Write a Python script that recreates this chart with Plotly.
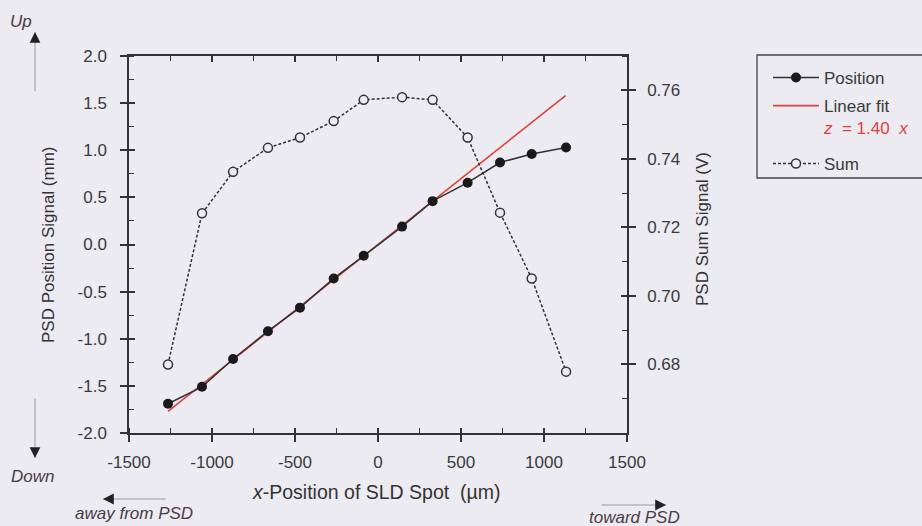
import plotly.graph_objects as go

# ---------------- data ----------------
spot_x = [-1265, -1060, -873, -663, -470, -267, -86, 145, 329, 540, 735, 926, 1133]
position_mm = [-1.69, -1.51, -1.215, -0.92, -0.67, -0.36, -0.12, 0.19, 0.46, 0.656, 0.87, 0.96, 1.03]
sum_v = [0.680, 0.7241, 0.7362, 0.7432, 0.7462, 0.751, 0.7572, 0.758, 0.7572, 0.7462, 0.7243, 0.7051, 0.6779]
fit_x = [-1265, 1130]
fit_z = [-1.77, 1.58]

x_ticks = [-1500, -1000, -500, 0, 500, 1000, 1500]
x_ticktext = ["-1500", "-1000", "-500", "0", "500", "1000", "1500"]
y_ticks = [-2.0, -1.5, -1.0, -0.5, 0.0, 0.5, 1.0, 1.5, 2.0]
y_ticktext = ["-2.0", "-1.5", "-1.0", "-0.5", "0.0", "0.5", "1.0", "1.5", "2.0"]
y2_ticks = [0.68, 0.70, 0.72, 0.74, 0.76]
y2_ticktext = ["0.68", "0.70", "0.72", "0.74", "0.76"]

# ---------------- style ----------------
BG = "#ecebf1"
INK = "#333333"
RED = "#e2403c"
FONT = "Liberation Sans, Arial, sans-serif"
FS = 17
W, H = 922, 526
L, R, T, B = 129, 627, 56, 433


def px(xp):
    return (xp - L) / (R - L)


def py(yp):
    return (B - yp) / (B - T)


fig = go.Figure()

fig.add_trace(go.Scatter(
    x=spot_x, y=sum_v, name="Sum", yaxis="y2", mode="lines+markers",
    line=dict(color=INK, width=1.5, dash="3px,2px"),
    marker=dict(symbol="circle", size=9, color=BG, line=dict(color=INK, width=1.5)),
    legend="legend2",
))
fig.add_trace(go.Scatter(
    x=fit_x, y=fit_z, mode="lines",
    name="Linear fit<br><span style='color:%s'><i>z</i>  = 1.40  <i>x</i></span>" % RED,
    line=dict(color=RED, width=1.6),
    legendrank=2, legendgroup="b",
))
fig.add_trace(go.Scatter(
    x=spot_x, y=position_mm, name="Position", mode="lines+markers",
    line=dict(color=INK, width=1.5),
    marker=dict(symbol="circle", size=10, color="#1a1a1a"),
    legendrank=1, legendgroup="a",
))

axis_common = dict(showgrid=False, zeroline=False, linecolor=INK, linewidth=1.5,
                   tickcolor=INK, tickwidth=1.5,
                   tickfont=dict(family=FONT, size=FS, color="#3a3a3a"))

leg_common = dict(xanchor="left", yanchor="top", bgcolor="rgba(0,0,0,0)", borderwidth=0,
                  font=dict(family=FONT, size=FS, color="#3a3a3a"),
                  valign="top", itemwidth=46)

fig.update_layout(
    width=W, height=H,
    margin=dict(l=L, r=W - R, t=T, b=H - B, autoexpand=False),
    paper_bgcolor=BG, plot_bgcolor=BG,
    font=dict(family=FONT, size=FS, color=INK),
    showlegend=True,
    legend=dict(x=px(768), y=py(60), tracegroupgap=3, traceorder="grouped", **leg_common),
    legend2=dict(x=px(768), y=py(146), **leg_common),
    xaxis=dict(range=[-1500, 1500], tickvals=x_ticks, ticktext=x_ticktext,
               ticks="outside", ticklen=7, showline=True, anchor="y",
               ticklabelstandoff=6,
               minor=dict(dtick=250, tick0=0, ticks="inside", ticklen=5,
                          tickcolor=INK, tickwidth=1.2),
               **axis_common),
    xaxis2=dict(range=[-1500, 1500], tickvals=x_ticks, overlaying="x", side="bottom",
                anchor="y", ticks="inside", ticklen=5, showticklabels=False,
                showline=False, showgrid=False, zeroline=False, tickcolor=INK, tickwidth=1.5),
    xaxis3=dict(range=[-1500, 1500], tickvals=x_ticks, overlaying="x", side="top",
                anchor="y", ticks="inside", ticklen=6, showticklabels=False,
                showline=True, linecolor=INK, linewidth=1.5,
                minor=dict(dtick=250, tick0=0, ticks="inside", ticklen=5,
                           tickcolor=INK, tickwidth=1.2),
                showgrid=False, zeroline=False, tickcolor=INK, tickwidth=1.5),
    yaxis=dict(range=[-2, 2], tickvals=y_ticks, ticktext=y_ticktext,
               ticks="outside", ticklen=7, showline=True, anchor="x",
               ticklabelstandoff=10,
               minor=dict(dtick=0.25, tick0=0, ticks="inside", ticklen=5,
                          tickcolor=INK, tickwidth=1.2),
               **axis_common),
    yaxis3=dict(range=[-2, 2], tickvals=y_ticks, overlaying="y", side="left",
                anchor="x", ticks="inside", ticklen=6, showticklabels=False,
                showline=False, showgrid=False, zeroline=False, tickcolor=INK, tickwidth=1.5),
    yaxis2=dict(range=[0.66, 0.77], tickvals=y2_ticks, ticktext=y2_ticktext,
                overlaying="y", side="right", anchor="x",
                ticks="outside", ticklen=7, showline=True,
                ticklabelstandoff=8,
                minor=dict(dtick=0.01, tick0=0.66, ticks="inside", ticklen=5,
                           tickcolor=INK, tickwidth=1.2),
                **axis_common),
    yaxis4=dict(range=[0.66, 0.77], tickvals=y2_ticks, overlaying="y", side="right",
                anchor="x", ticks="inside", ticklen=6, showticklabels=False,
                showline=False, showgrid=False, zeroline=False, tickcolor=INK, tickwidth=1.5),
)

# invisible traces so the overlay tick axes are drawn
fig.add_trace(go.Scatter(x=[None], y=[None], xaxis="x2", yaxis="y", showlegend=False, hoverinfo="skip"))
fig.add_trace(go.Scatter(x=[None], y=[None], xaxis="x3", yaxis="y", showlegend=False, hoverinfo="skip"))
fig.add_trace(go.Scatter(x=[None], y=[None], xaxis="x", yaxis="y3", showlegend=False, hoverinfo="skip"))
fig.add_trace(go.Scatter(x=[None], y=[None], xaxis="x", yaxis="y4", showlegend=False, hoverinfo="skip"))

# legend frame (right side runs off the page, as in the original)
fig.add_shape(type="rect", xref="paper", yref="paper",
              x0=px(757), x1=px(940), y0=py(178), y1=py(55),
              line=dict(color="#444444", width=1.3), fillcolor="rgba(0,0,0,0)")

ann = []
# axis titles
ann.append(dict(x=px(376), y=py(492), text="<i>x</i>-Position of SLD Spot  (µm)",
                font=dict(size=19.5, color=INK)))
ann.append(dict(x=px(48), y=py(245), text="PSD Position Signal (mm)", textangle=-90,
                font=dict(size=FS, color=INK)))
ann.append(dict(x=px(702), y=py(229), text="PSD Sum Signal (V)", textangle=-90,
                font=dict(size=FS, color=INK)))

LAB = "#4a3c44"
for txt, xx, yy in [("Up", 21, 22), ("Down", 32, 477), ("away from PSD", 134, 513), ("toward PSD", 634, 517)]:
    ann.append(dict(x=px(xx), y=py(yy), text="<i>%s</i>" % txt, font=dict(size=FS, color=LAB)))
for a in ann:
    a.update(xref="paper", yref="paper", showarrow=False, xanchor="center", yanchor="middle")

# arrows: gray shafts + dark heads (head position, tail offset in px)
for hx, hy, axp, ayp in [(35, 32, 0, 61), (35, 458, 0, -61), (103, 499, 64, 0), (666, 505, -66, 0)]:
    ann.append(dict(x=px(hx), y=py(hy), xref="paper", yref="paper", showarrow=True,
                    ax=axp, ay=ayp, axref="pixel", ayref="pixel", text="",
                    arrowhead=0, arrowwidth=1, arrowcolor="#9a9a9a", standoff=0))
    sx = 0 if axp == 0 else (10 if axp > 0 else -10)
    sy = 0 if ayp == 0 else (10 if ayp > 0 else -10)
    ann.append(dict(x=px(hx), y=py(hy), xref="paper", yref="paper", showarrow=True,
                    ax=sx, ay=sy, axref="pixel", ayref="pixel", text="",
                    arrowhead=2, arrowsize=1.8, arrowwidth=1.2, arrowcolor="#222222", standoff=0))
fig.update_layout(annotations=ann)

fig.write_html("out.html")
